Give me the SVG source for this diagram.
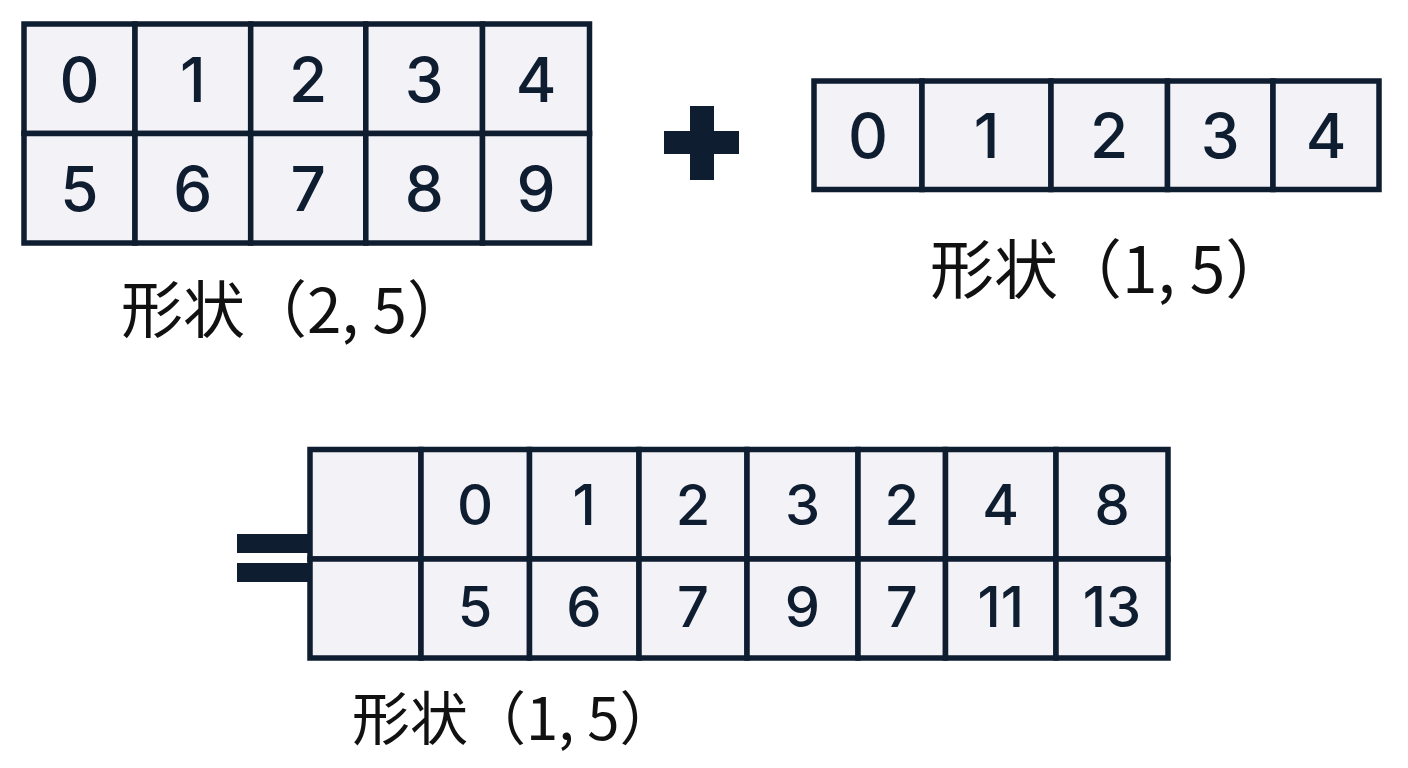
<svg xmlns="http://www.w3.org/2000/svg" width="1408" height="768" viewBox="0 0 1408 768">
<style>
.cell{fill:#f2f2f7;stroke:#0f1d30;stroke-width:5.5}
.num{font-family:Inter,"Noto Sans",sans-serif;font-size:62px;font-weight:500;fill:#0f1d30;text-anchor:middle}
.sm{font-size:56px}
.lbl{font-family:"Noto Sans CJK SC","Noto Sans CJK JP",sans-serif;fill:#111111}
.op{fill:#0f1d30}
</style>
<rect width="1408" height="768" fill="#ffffff"/>
<g id="matrixA">
<rect class="cell" x="24" y="24" width="111" height="109.5"/>
<rect class="cell" x="135" y="24" width="115.7" height="109.5"/>
<rect class="cell" x="250.7" y="24" width="115.1" height="109.5"/>
<rect class="cell" x="365.8" y="24" width="116.7" height="109.5"/>
<rect class="cell" x="482.5" y="24" width="107" height="109.5"/>
<rect class="cell" x="24" y="133.5" width="111" height="109.5"/>
<rect class="cell" x="135" y="133.5" width="115.7" height="109.5"/>
<rect class="cell" x="250.7" y="133.5" width="115.1" height="109.5"/>
<rect class="cell" x="365.8" y="133.5" width="116.7" height="109.5"/>
<rect class="cell" x="482.5" y="133.5" width="107" height="109.5"/>
<text class="num" x="79.5" y="101.5">0</text>
<text class="num" x="192.8" y="101.5">1</text>
<text class="num" x="308.2" y="101.5">2</text>
<text class="num" x="424.2" y="101.5">3</text>
<text class="num" x="536" y="101.5">4</text>
<text class="num" x="79.5" y="210.7">5</text>
<text class="num" x="192.8" y="210.7">6</text>
<text class="num" x="308.2" y="210.7">7</text>
<text class="num" x="424.2" y="210.7">8</text>
<text class="num" x="536" y="210.7">9</text>
<text class="lbl" x="121" y="333" font-size="62">形状（2, 5）</text>
</g>
<g id="plus">
<rect class="op" x="664" y="131" width="75" height="23"/>
<rect class="op" x="690" y="106" width="24" height="74"/>
</g>
<g id="matrixB">
<rect class="cell" x="814" y="81" width="108" height="108.5"/>
<rect class="cell" x="922" y="81" width="129" height="108.5"/>
<rect class="cell" x="1051" y="81" width="116.5" height="108.5"/>
<rect class="cell" x="1167.5" y="81" width="105.5" height="108.5"/>
<rect class="cell" x="1273" y="81" width="106" height="108.5"/>
<text class="num" x="868" y="158">0</text>
<text class="num" x="986.5" y="158">1</text>
<text class="num" x="1109.2" y="158">2</text>
<text class="num" x="1220.2" y="158">3</text>
<text class="num" x="1326" y="158">4</text>
<text class="lbl" x="930" y="293" font-size="64">形状（1, 5）</text>
</g>
<g id="equals">
<rect class="op" x="237" y="534" width="73" height="19"/>
<rect class="op" x="237" y="563" width="73" height="19"/>
</g>
<g id="result">
<rect class="cell" x="310" y="449.5" width="111" height="109.5"/>
<rect class="cell" x="421" y="449.5" width="108.5" height="109.5"/>
<rect class="cell" x="529.5" y="449.5" width="109.5" height="109.5"/>
<rect class="cell" x="639" y="449.5" width="108" height="109.5"/>
<rect class="cell" x="747" y="449.5" width="111" height="109.5"/>
<rect class="cell" x="858" y="449.5" width="87.5" height="109.5"/>
<rect class="cell" x="945.5" y="449.5" width="110.5" height="109.5"/>
<rect class="cell" x="1056" y="449.5" width="112" height="109.5"/>
<rect class="cell" x="310" y="559" width="111" height="99"/>
<rect class="cell" x="421" y="559" width="108.5" height="99"/>
<rect class="cell" x="529.5" y="559" width="109.5" height="99"/>
<rect class="cell" x="639" y="559" width="108" height="99"/>
<rect class="cell" x="747" y="559" width="111" height="99"/>
<rect class="cell" x="858" y="559" width="87.5" height="99"/>
<rect class="cell" x="945.5" y="559" width="110.5" height="99"/>
<rect class="cell" x="1056" y="559" width="112" height="99"/>
<text class="num sm" x="475" y="525">0</text>
<text class="num sm" x="584" y="525">1</text>
<text class="num sm" x="693" y="525">2</text>
<text class="num sm" x="802.5" y="525">3</text>
<text class="num sm" x="901.7" y="525">2</text>
<text class="num sm" x="1000.7" y="525">4</text>
<text class="num sm" x="1112" y="525">8</text>
<text class="num sm" x="475" y="626.5">5</text>
<text class="num sm" x="584" y="626.5">6</text>
<text class="num sm" x="693" y="626.5">7</text>
<text class="num sm" x="802.5" y="626.5">9</text>
<text class="num sm" x="901.7" y="626.5">7</text>
<text class="num sm" x="1000.7" y="626.5">11</text>
<text class="num sm" x="1112" y="626.5">13</text>
<text class="lbl" x="352" y="740" font-size="58">形状（1, 5）</text>
</g>
<g id="connectors"/>
</svg>
